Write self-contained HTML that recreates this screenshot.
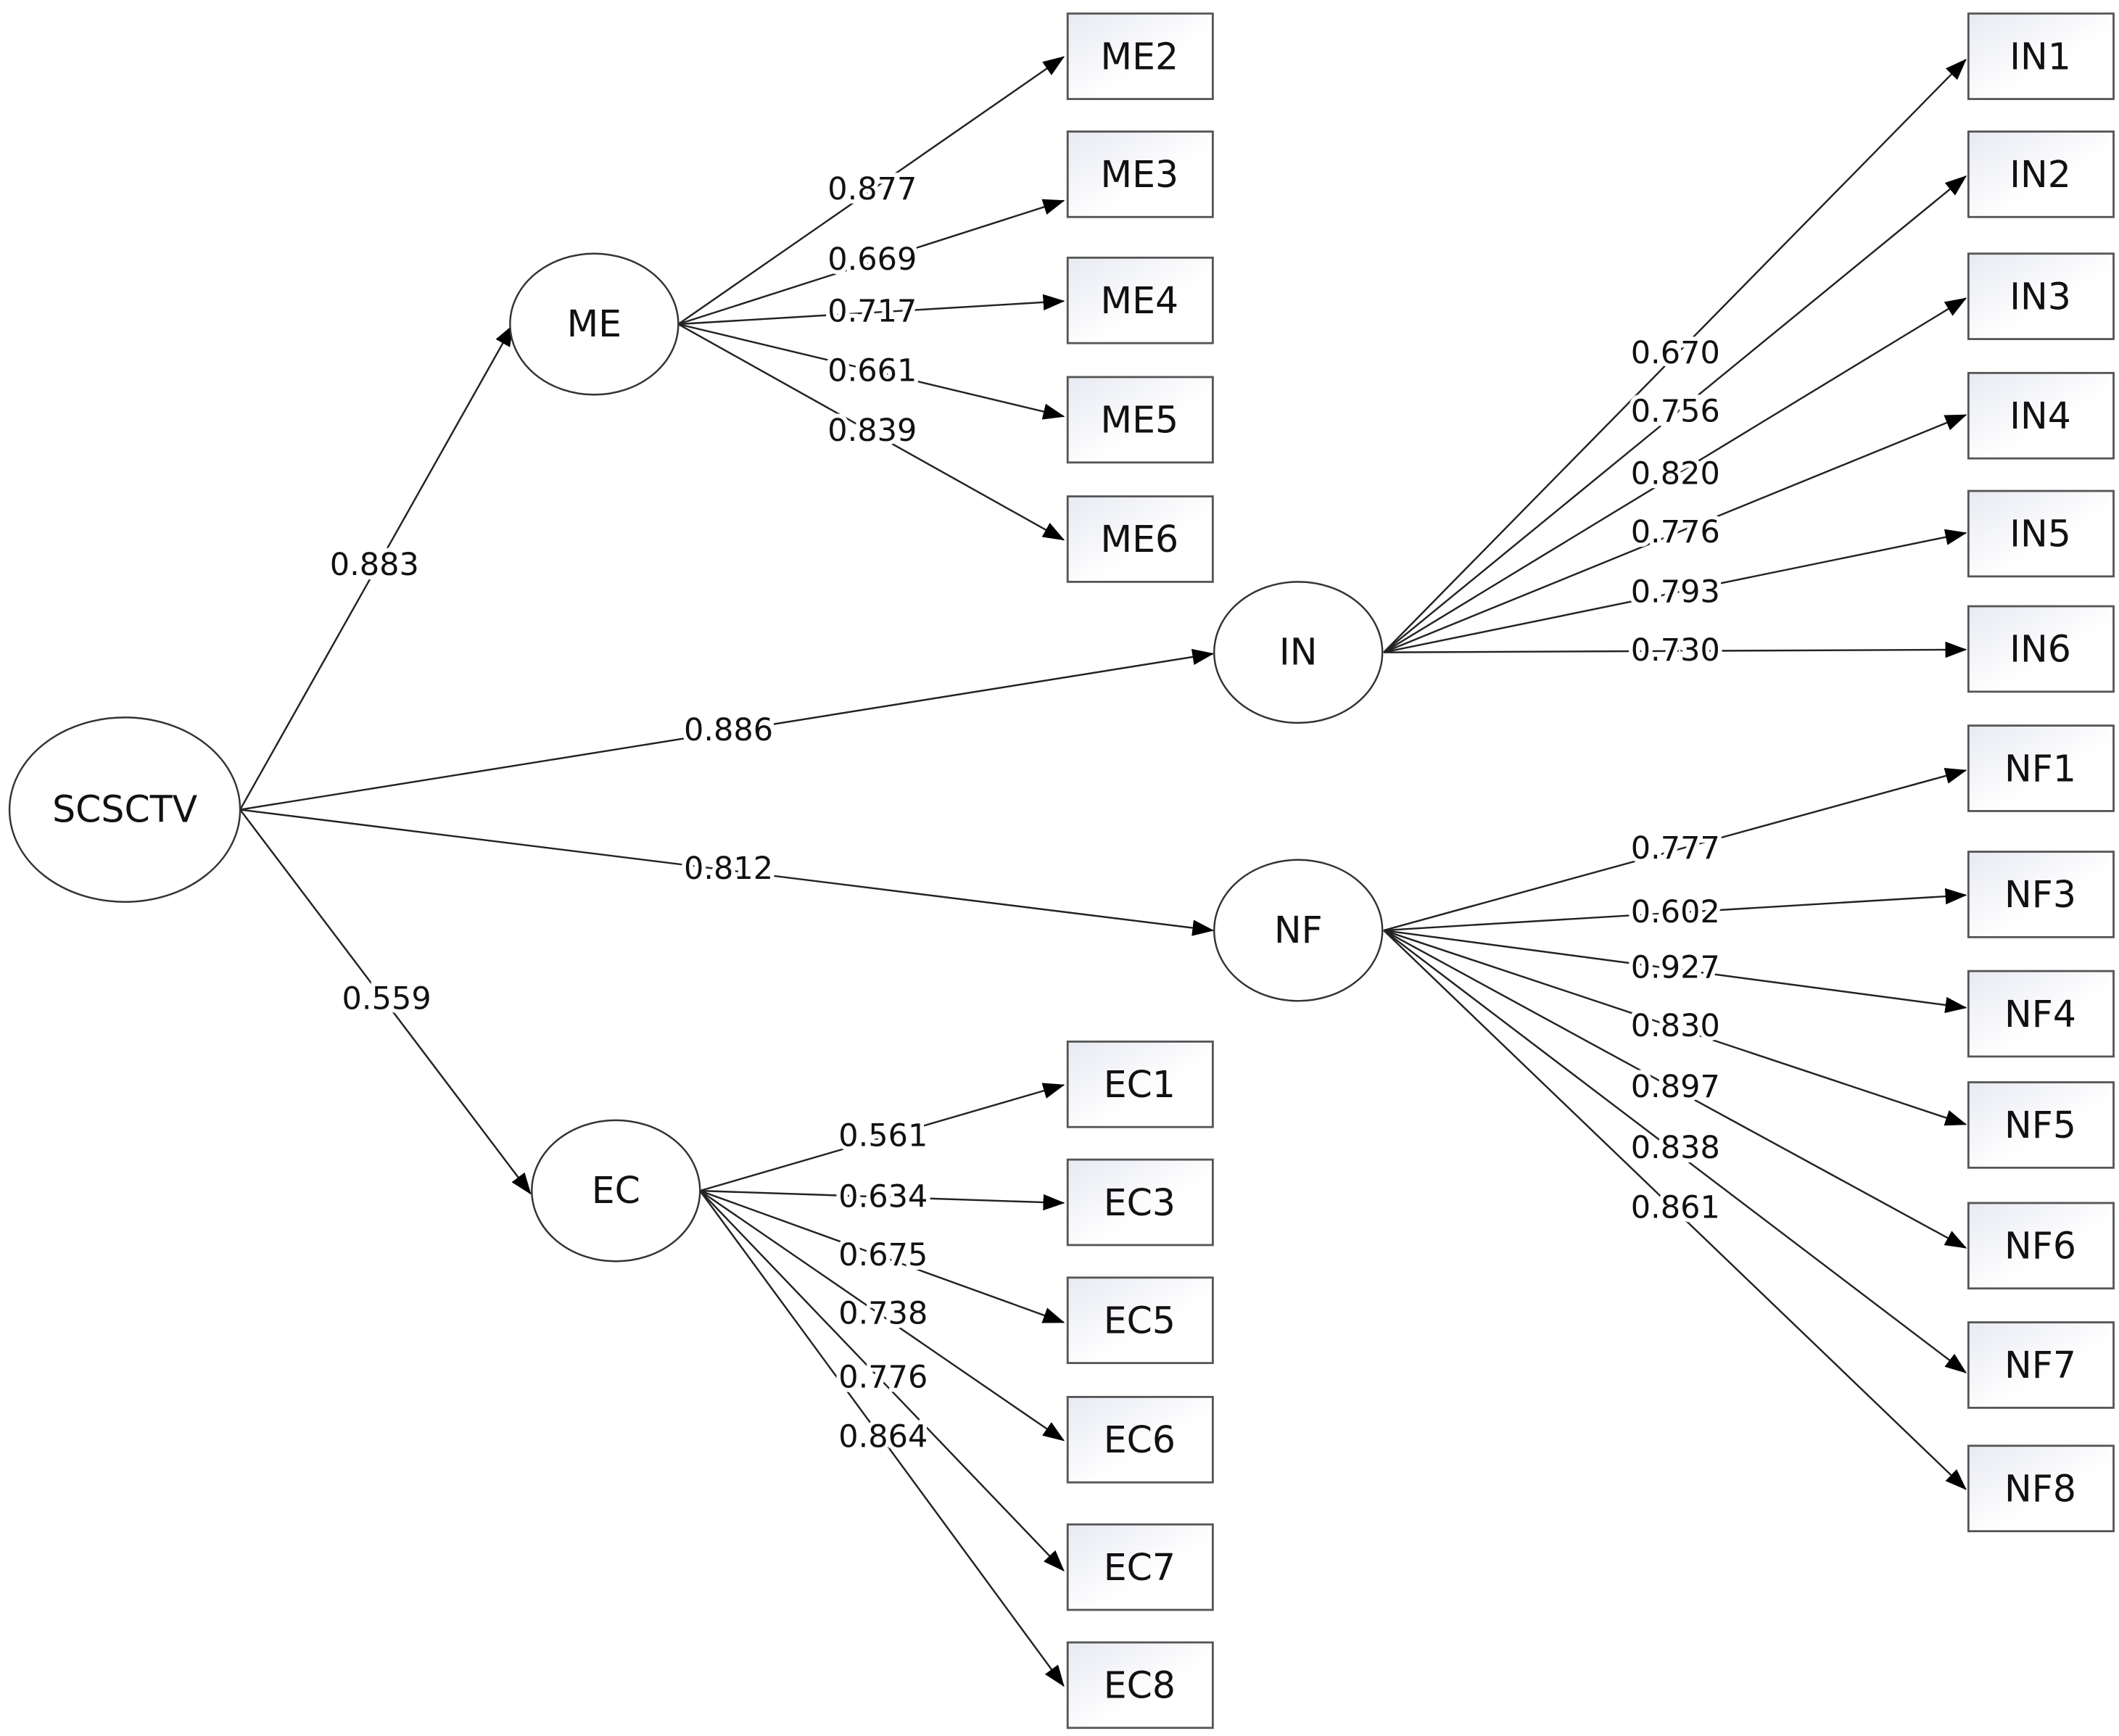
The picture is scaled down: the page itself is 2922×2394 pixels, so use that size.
<!DOCTYPE html>
<html><head><meta charset="utf-8"><style>html,body{margin:0;padding:0;background:#fff}svg{display:block}</style></head>
<body>
<svg width="2922" height="2394" viewBox="0 0 1562 1280" preserveAspectRatio="none" xmlns="http://www.w3.org/2000/svg" font-family="DejaVu Sans, Liberation Sans, sans-serif">
<defs>
<marker id="a" markerWidth="16" markerHeight="12" refX="15" refY="6" orient="auto" markerUnits="userSpaceOnUse"><path d="M0,0 L16,6 L0,12 z" fill="#000"/></marker>
<linearGradient id="g" x1="0" y1="0" x2="1" y2="1"><stop offset="0" stop-color="#e8eaf2"/><stop offset="0.6" stop-color="#fff"/></linearGradient>
</defs>
<g stroke="#222" stroke-width="1.3" fill="none" marker-end="url(#a)">
<line x1="177" y1="597" x2="378" y2="240"/>
<line x1="177" y1="597" x2="894" y2="482"/>
<line x1="177" y1="597" x2="894" y2="686"/>
<line x1="177" y1="597" x2="391" y2="880"/>
<line x1="500" y1="239" x2="784" y2="42"/>
<line x1="500" y1="239" x2="784" y2="148"/>
<line x1="500" y1="239" x2="784" y2="222"/>
<line x1="500" y1="239" x2="784" y2="307"/>
<line x1="500" y1="239" x2="784" y2="398"/>
<line x1="1020" y1="481" x2="1449" y2="44"/>
<line x1="1020" y1="481" x2="1449" y2="130"/>
<line x1="1020" y1="481" x2="1449" y2="220"/>
<line x1="1020" y1="481" x2="1449" y2="306"/>
<line x1="1020" y1="481" x2="1449" y2="393"/>
<line x1="1020" y1="481" x2="1449" y2="479"/>
<line x1="1020" y1="686" x2="1449" y2="568"/>
<line x1="1020" y1="686" x2="1449" y2="660"/>
<line x1="1020" y1="686" x2="1449" y2="743"/>
<line x1="1020" y1="686" x2="1449" y2="829"/>
<line x1="1020" y1="686" x2="1449" y2="920"/>
<line x1="1020" y1="686" x2="1449" y2="1012"/>
<line x1="1020" y1="686" x2="1449" y2="1098"/>
<line x1="516" y1="878" x2="784" y2="800"/>
<line x1="516" y1="878" x2="784" y2="887"/>
<line x1="516" y1="878" x2="784" y2="975"/>
<line x1="516" y1="878" x2="784" y2="1062"/>
<line x1="516" y1="878" x2="784" y2="1158"/>
<line x1="516" y1="878" x2="784" y2="1243"/>
</g>
<g fill="#fff" stroke="#333" stroke-width="1.3">
<ellipse cx="92" cy="597" rx="85" ry="68"/>
<ellipse cx="438" cy="239" rx="62" ry="52"/>
<ellipse cx="957" cy="481" rx="62" ry="52"/>
<ellipse cx="957" cy="686" rx="62" ry="52"/>
<ellipse cx="454" cy="878" rx="62" ry="52"/>
</g>
<g fill="url(#g)" stroke="#555" stroke-width="1.5">
<rect x="787" y="10" width="107" height="63"/><rect x="787" y="97" width="107" height="63"/><rect x="787" y="190" width="107" height="63"/><rect x="787" y="278" width="107" height="63"/><rect x="787" y="366" width="107" height="63"/>
<rect x="1451" y="10" width="107" height="63"/><rect x="1451" y="97" width="107" height="63"/><rect x="1451" y="187" width="107" height="63"/><rect x="1451" y="275" width="107" height="63"/><rect x="1451" y="362" width="107" height="63"/><rect x="1451" y="447" width="107" height="63"/>
<rect x="1451" y="535" width="107" height="63"/><rect x="1451" y="628" width="107" height="63"/><rect x="1451" y="716" width="107" height="63"/><rect x="1451" y="798" width="107" height="63"/><rect x="1451" y="887" width="107" height="63"/><rect x="1451" y="975" width="107" height="63"/><rect x="1451" y="1066" width="107" height="63"/>
<rect x="787" y="768" width="107" height="63"/><rect x="787" y="855" width="107" height="63"/><rect x="787" y="942" width="107" height="63"/><rect x="787" y="1030" width="107" height="63"/><rect x="787" y="1124" width="107" height="63"/><rect x="787" y="1211" width="107" height="63"/>
</g>
<g font-size="27" text-anchor="middle" fill="#111">
<text x="92" y="606">SCSCTV</text><text x="438" y="248">ME</text><text x="957" y="490">IN</text><text x="957" y="695">NF</text><text x="454" y="887">EC</text>
<text x="840" y="51">ME2</text><text x="840" y="138">ME3</text><text x="840" y="231">ME4</text><text x="840" y="319">ME5</text><text x="840" y="407">ME6</text>
<text x="1504" y="51">IN1</text><text x="1504" y="138">IN2</text><text x="1504" y="228">IN3</text><text x="1504" y="316">IN4</text><text x="1504" y="403">IN5</text><text x="1504" y="488">IN6</text>
<text x="1504" y="576">NF1</text><text x="1504" y="669">NF3</text><text x="1504" y="757">NF4</text><text x="1504" y="839">NF5</text><text x="1504" y="928">NF6</text><text x="1504" y="1016">NF7</text><text x="1504" y="1107">NF8</text>
<text x="840" y="809">EC1</text><text x="840" y="896">EC3</text><text x="840" y="983">EC5</text><text x="840" y="1071">EC6</text><text x="840" y="1165">EC7</text><text x="840" y="1252">EC8</text>
</g>
<g font-size="23" text-anchor="middle" fill="#111" stroke="#fff" stroke-width="6" paint-order="stroke">
<text x="276" y="424">0.883</text><text x="537" y="546">0.886</text><text x="537" y="648">0.812</text><text x="285" y="744">0.559</text>
<text x="643" y="147">0.877</text><text x="643" y="199">0.669</text><text x="643" y="237">0.717</text><text x="643" y="281">0.661</text><text x="643" y="325">0.839</text>
<text x="1235" y="268">0.670</text><text x="1235" y="311">0.756</text><text x="1235" y="357">0.820</text><text x="1235" y="400">0.776</text><text x="1235" y="444">0.793</text><text x="1235" y="487">0.730</text>
<text x="1235" y="633">0.777</text><text x="1235" y="680">0.602</text><text x="1235" y="721">0.927</text><text x="1235" y="764">0.830</text><text x="1235" y="809">0.897</text><text x="1235" y="854">0.838</text><text x="1235" y="898">0.861</text>
<text x="651" y="845">0.561</text><text x="651" y="890">0.634</text><text x="651" y="933">0.675</text><text x="651" y="976">0.738</text><text x="651" y="1023">0.776</text><text x="651" y="1067">0.864</text>
</g>
</svg>
</body></html>
